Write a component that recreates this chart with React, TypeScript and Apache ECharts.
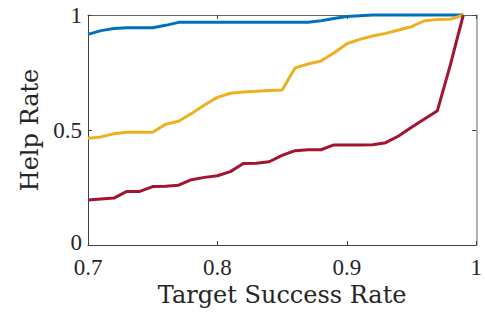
import React, { useEffect, useRef } from "react";
import * as echarts from "echarts";

const xs = [0.70, 0.71, 0.72, 0.73, 0.74, 0.75, 0.76, 0.77, 0.78, 0.79, 0.80, 0.81, 0.82, 0.83, 0.84, 0.85, 0.86, 0.87, 0.88, 0.89, 0.90, 0.91, 0.92, 0.93, 0.94, 0.95, 0.96, 0.97, 0.98, 0.99];
const blue = [0.916, 0.932, 0.941, 0.945, 0.945, 0.945, 0.955, 0.968, 0.968, 0.968, 0.968, 0.968, 0.968, 0.968, 0.968, 0.968, 0.968, 0.968, 0.975, 0.985, 0.993, 0.997, 1.0, 1.0, 1.0, 1.0, 1.0, 1.0, 1.0, 1.0];
const yellow = [0.464, 0.47, 0.484, 0.49, 0.49, 0.49, 0.525, 0.538, 0.572, 0.609, 0.642, 0.66, 0.665, 0.668, 0.672, 0.674, 0.77, 0.787, 0.8, 0.835, 0.875, 0.894, 0.909, 0.92, 0.935, 0.949, 0.975, 0.98, 0.981, 1.0];
const red = [0.196, 0.2, 0.204, 0.233, 0.233, 0.254, 0.255, 0.26, 0.284, 0.294, 0.301, 0.319, 0.354, 0.355, 0.362, 0.39, 0.41, 0.414, 0.414, 0.435, 0.435, 0.435, 0.436, 0.445, 0.474, 0.512, 0.548, 0.584, 0.783, 1.0];

const xTickLabels: Record<string, string> = { "0.7": "0.7", "0.8": "0.8", "0.9": "0.9", "1": "1" };
const yTickLabels: Record<string, string> = { "0": "{z|0}", "0.5": "0.5", "1": "1" };

const colors = ["#0072BD", "#EDB120", "#A2142F"];
const axisColor = "#404040";
const textColor = "#262626";

function pairs(vals: number[]) {
  return xs.map((x, i) => [x, vals[i]]);
}

export default function App() {
  const ref = useRef<HTMLDivElement>(null);
  useEffect(() => {
    document.body.style.margin = "0";
    const chart = echarts.init(ref.current!, null, { renderer: "svg" });
    const fmt = (map: Record<string, string>) => (v: number) => {
      const k = String(+v.toFixed(2));
      return map[k] ?? "";
    };
    const tickStyle = { show: true, inside: true, length: 4, lineStyle: { color: axisColor, width: 1 } };
    chart.setOption({
      animation: false,
      backgroundColor: "#ffffff",
      grid: { left: 88, right: 6, top: 15, bottom: 71, containLabel: false },
      xAxis: [
        {
          type: "value",
          min: 0.7,
          max: 1,
          interval: 0.1,
          position: "bottom",
          name: "Target Success Rate",
          nameLocation: "middle",
          nameGap: 38,
          nameTextStyle: { fontFamily: "DejaVu Serif", fontSize: 24, color: textColor },
          axisLine: { show: true, onZero: false, lineStyle: { color: axisColor, width: 1 } },
          axisTick: tickStyle,
          axisLabel: { formatter: fmt(xTickLabels), fontFamily: "Liberation Serif", fontSize: 23, lineHeight: 18, color: textColor, margin: 13 },
          splitLine: { show: false },
        },
        {
          type: "value",
          min: 0.7,
          max: 1,
          interval: 0.1,
          position: "top",
          axisLine: { show: true, onZero: false, lineStyle: { color: "#666666", width: 1 } },
          axisTick: tickStyle,
          axisLabel: { show: false },
          splitLine: { show: false },
        },
      ],
      yAxis: [
        {
          type: "value",
          min: 0,
          max: 1,
          interval: 0.5,
          position: "left",
          name: "Help Rate",
          nameLocation: "middle",
          nameGap: 46,
          nameRotate: 90,
          nameTextStyle: { fontFamily: "DejaVu Serif", fontSize: 24, color: textColor },
          axisLine: { show: true, onZero: false, lineStyle: { color: axisColor, width: 1 } },
          axisTick: tickStyle,
          axisLabel: {
            formatter: fmt(yTickLabels),
            fontFamily: "Liberation Serif",
            fontSize: 23,
            lineHeight: 18,
            color: textColor,
            margin: 6,
            rich: { z: { fontFamily: "Liberation Serif", fontSize: 23, lineHeight: 18, color: textColor, padding: [0, 0, 6, 0] } },
          },
          splitLine: { show: false },
        },
        {
          type: "value",
          min: 0,
          max: 1,
          interval: 0.5,
          position: "right",
          axisLine: { show: true, onZero: false, lineStyle: { color: "#999999", width: 1.5 } },
          axisTick: tickStyle,
          axisLabel: { show: false },
          splitLine: { show: false },
        },
      ],
      series: [
        { type: "line", data: pairs(blue), showSymbol: false, clip: false, lineStyle: { color: colors[0], width: 3 }, itemStyle: { color: colors[0] } },
        { type: "line", data: pairs(yellow), showSymbol: false, clip: false, lineStyle: { color: colors[1], width: 3 }, itemStyle: { color: colors[1] } },
        { type: "line", data: pairs(red), showSymbol: false, clip: false, lineStyle: { color: colors[2], width: 3 }, itemStyle: { color: colors[2] } },
      ],
    });
    return () => chart.dispose();
  }, []);
  return <div ref={ref} style={{ position: "absolute", left: 0, top: 0, width: 485, height: 316 }} />;
}
